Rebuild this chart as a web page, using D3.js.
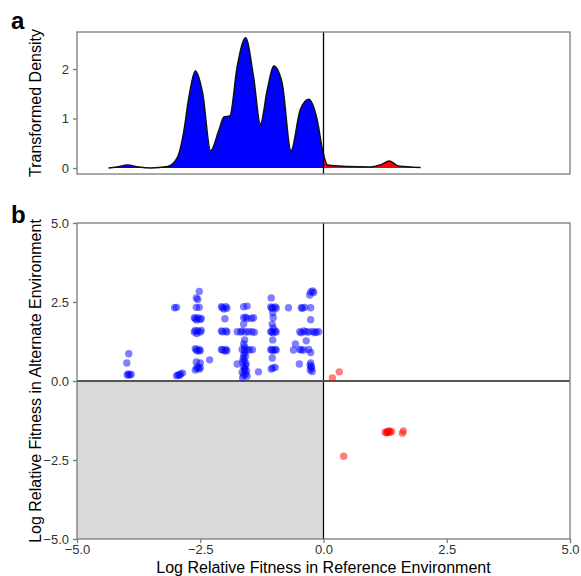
<!DOCTYPE html>
<html>
<head>
<meta charset="utf-8">
<script src="https://cdn.jsdelivr.net/npm/d3@7"></script>
<style>
  body { margin: 0; background: #fff; }
  svg { font-family: "Liberation Sans", Arial, sans-serif; }
</style>
</head>
<body>
<div class="graph"></div>
<script>
// density curve: [log fitness, transformed density]
var densityCurve = [
    [-4.36, 0], [-4.2, 0.02], [-3.97, 0.06], [-3.75, 0.02], [-3.5, 0.0], [-3.16, 0.03],
    [-2.96, 0.22], [-2.84, 0.7], [-2.73, 1.43], [-2.6, 1.96], [-2.45, 1.5], [-2.29, 0.35],
    [-2.12, 0.77], [-2.02, 1.03], [-1.9, 1.05], [-1.75, 2.05], [-1.58, 2.63], [-1.42, 1.85],
    [-1.28, 0.89], [-1.14, 1.58], [-1.01, 2.06], [-0.84, 1.72], [-0.66, 0.35], [-0.47, 1.18],
    [-0.3, 1.39], [-0.13, 0.98], [-0.02, 0.37], [0.08, 0.06], [0.49, 0.03], [0.95, 0.02],
    [1.15, 0.06], [1.34, 0.14], [1.52, 0.04], [1.97, 0.01]
]
var densityTicks = [0, 1, 2]

// panel b points: [reference env, alternate env]
var bluePoints = [
    [-3.95, 0.86], [-3.99, 0.57], [-3.93, 0.19], [-3.90, 0.21], [-3.96, 0.22], [-3.98, 0.19],
    [-3.02, 2.32], [-2.98, 2.33], [-2.95, 0.19], [-2.90, 0.22], [-2.98, 0.17], [-2.86, 0.25], [-2.92, 0.18],
    [-2.52, 2.83], [-2.58, 2.63], [-2.55, 2.58], [-2.58, 2.33], [-2.52, 2.33],
    [-2.6, 1.97], [-2.55, 2.0], [-2.5, 1.95], [-2.57, 1.93], [-2.62, 2.0], [-2.48, 1.98],
    [-2.62, 1.55], [-2.55, 1.58], [-2.5, 1.55], [-2.57, 1.5], [-2.6, 1.6], [-2.48, 1.6],
    [-2.58, 0.98], [-2.52, 1.0], [-2.55, 0.95], [-2.6, 1.02], [-2.5, 0.96], [-2.58, 0.6], [-2.5, 0.57],
    [-2.57, 0.4], [-2.52, 0.38], [-2.55, 0.45], [-2.6, 0.35], [-2.5, 0.42], [-2.31, 0.67],
    [-2.05, 2.32], [-1.98, 2.35], [-2.02, 2.28], [-2.07, 2.35], [-1.96, 2.3], [-2.0, 1.97],
    [-2.05, 1.56], [-1.98, 1.58], [-2.07, 1.58], [-1.96, 1.55],
    [-2.05, 0.98], [-1.98, 1.0], [-2.0, 0.95], [-2.07, 1.0], [-1.96, 0.96],
    [-1.62, 2.35], [-1.55, 2.37], [-1.62, 2.0], [-1.58, 2.02], [-1.55, 1.98], [-1.42, 2.0], [-1.46, 1.98],
    [-1.62, 1.8], [-1.75, 1.56], [-1.65, 1.58], [-1.58, 1.55], [-1.45, 1.56], [-1.4, 1.54],
    [-1.68, 1.55], [-1.52, 1.56],
    [-1.6, 1.3], [-1.62, 1.17], [-1.6, 1.08], [-1.6, 0.98], [-1.65, 1.0], [-1.55, 1.0], [-1.5, 0.98], [-1.44, 0.99],
    [-1.6, 0.88], [-1.62, 0.8], [-1.58, 0.78], [-1.63, 0.7], [-1.6, 0.63], [-1.64, 0.6], [-1.57, 0.55],
    [-1.58, 0.48], [-1.62, 0.45], [-1.6, 0.4], [-1.6, 0.35], [-1.56, 0.32], [-1.65, 0.28],
    [-1.62, 0.19], [-1.58, 0.22], [-1.55, 0.15], [-1.75, 0.54], [-1.64, 0.1], [-1.32, 0.29],
    [-1.06, 2.63], [-1.03, 2.32], [-0.98, 2.34], [-1.05, 2.3], [-1.07, 2.34], [-0.96, 2.3],
    [-1.03, 2.16], [-1.02, 2.0], [-1.04, 1.8], [-1.02, 1.68],
    [-1.05, 1.56], [-0.98, 1.58], [-1.02, 1.53], [-1.07, 1.56], [-0.96, 1.55], [-1.03, 1.3],
    [-1.05, 0.98], [-0.98, 1.0], [-1.02, 0.96], [-1.07, 1.0], [-0.96, 0.98], [-1.04, 0.73],
    [-1.03, 0.41], [-0.98, 0.43], [-1.06, 0.38], [-0.71, 2.32],
    [-0.26, 2.82], [-0.22, 2.85], [-0.2, 2.8], [-0.28, 2.72], [-0.45, 2.32], [-0.43, 2.3], [-0.38, 2.33], [-0.26, 2.32],
    [-0.26, 1.94], [-0.48, 1.56], [-0.45, 1.53], [-0.4, 1.58], [-0.35, 1.56], [-0.3, 1.55],
    [-0.22, 1.57], [-0.18, 1.53], [-0.15, 1.55], [-0.1, 1.56],
    [-0.35, 1.27], [-0.57, 1.17], [-0.48, 1.0], [-0.45, 0.98], [-0.4, 0.98], [-0.3, 1.0], [-0.61, 0.98],
    [-0.26, 0.9], [-0.49, 0.54], [-0.26, 0.57], [-0.27, 0.5], [-0.24, 0.41], [-0.27, 0.35],
    [-0.25, 0.45], [-0.23, 0.3]
]
var redPoints = [
    [0.18, 0.1], [0.32, 0.29], [1.25, -1.62], [1.3, -1.6], [1.35, -1.62], [1.38, -1.6],
    [1.28, -1.64], [1.3, -1.63], [1.33, -1.58], [1.62, -1.58], [1.6, -1.65], [0.41, -2.38]
]
var fitnessTicks = [-5, -2.5, 0, 2.5, 5]

var svg = d3.select('.graph')
    .append('svg')
    .attr('width', 581)
    .attr('height', 576)

var left = 77, right = 570
var x = d3.scaleLinear().domain([-5, 5]).range([left, right])
var yDens = d3.scaleLinear().domain([-0.121, 2.747]).range([174, 32])
var y = d3.scaleLinear().domain([-5, 5]).range([539, 223])

var frame = '#7a7a7a'
var tickText = '#333'
var dotR = 3.7

// ---- panel a ----
var panelA = svg.append('g')
var defs = svg.append('defs')
defs.append('clipPath').attr('id', 'negClip')
    .append('rect').attr('x', 0).attr('y', 0).attr('width', x(0)).attr('height', 200)
defs.append('clipPath').attr('id', 'posClip')
    .append('rect').attr('x', x(0)).attr('y', 0).attr('width', 581 - x(0)).attr('height', 200)

var area = d3.area()
    .x(function(d) { return x(d[0]) })
    .y0(yDens(0))
    .y1(function(d) { return yDens(d[1]) })
    .curve(d3.curveMonotoneX)
var line = d3.line()
    .x(function(d) { return x(d[0]) })
    .y(function(d) { return yDens(d[1]) })
    .curve(d3.curveMonotoneX)

panelA.append('path').datum(densityCurve)
    .attr('d', area).attr('fill', '#0000ff').attr('clip-path', 'url(#negClip)')
panelA.append('path').datum(densityCurve)
    .attr('d', area).attr('fill', '#ff0000').attr('clip-path', 'url(#posClip)')
panelA.append('path').datum(densityCurve)
    .attr('d', line).attr('fill', 'none').attr('stroke', '#111').attr('stroke-width', 1.5)

panelA.append('line')
    .attr('x1', x(0)).attr('x2', x(0)).attr('y1', yDens.range()[1]).attr('y2', yDens.range()[0])
    .attr('stroke', '#000').attr('stroke-width', 1.3)

panelA.append('rect')
    .attr('x', left).attr('y', 32).attr('width', right - left).attr('height', 174 - 32)
    .attr('fill', 'none').attr('stroke', frame).attr('stroke-width', 1.3)

var yAxisA = panelA.append('g')
    .attr('transform', 'translate(' + left + ',0)')
    .call(d3.axisLeft(yDens).tickValues(densityTicks).tickFormat(d3.format('d')).tickSize(4).tickPadding(4))
yAxisA.select('.domain').remove()

panelA.append('text')
    .attr('transform', 'translate(41,' + (32 + 174) / 2 + ') rotate(-90)')
    .attr('text-anchor', 'middle')
    .attr('font-size', 16)
    .text('Transformed Density')

svg.append('text').attr('x', 11).attr('y', 29)
    .attr('font-size', 24).attr('font-weight', 'bold').text('a')

// ---- panel b ----
var panelB = svg.append('g')

panelB.append('rect')
    .attr('x', x(-5)).attr('y', y(0)).attr('width', x(0) - x(-5)).attr('height', y(-5) - y(0))
    .attr('fill', '#d9d9d9')

panelB.append('line')
    .attr('x1', x(0)).attr('x2', x(0)).attr('y1', y(5)).attr('y2', y(-5))
    .attr('stroke', '#000').attr('stroke-width', 1.2)
panelB.append('line')
    .attr('x1', x(-5)).attr('x2', x(5)).attr('y1', y(0)).attr('y2', y(0))
    .attr('stroke', '#555').attr('stroke-width', 2)

panelB.append('g').selectAll('circle')
    .data(bluePoints)
    .enter().append('circle')
    .attr('cx', function(d) { return x(d[0]) })
    .attr('cy', function(d) { return y(d[1]) })
    .attr('r', dotR)
    .attr('fill', '#0000ff')
    .attr('fill-opacity', 0.5)

panelB.append('g').selectAll('circle')
    .data(redPoints)
    .enter().append('circle')
    .attr('cx', function(d) { return x(d[0]) })
    .attr('cy', function(d) { return y(d[1]) })
    .attr('r', dotR)
    .attr('fill', '#ff0000')
    .attr('fill-opacity', 0.5)

panelB.append('rect')
    .attr('x', left).attr('y', y(5)).attr('width', right - left).attr('height', y(-5) - y(5))
    .attr('fill', 'none').attr('stroke', frame).attr('stroke-width', 1.3)

var fmt = d3.format('.1f')
var xAxisB = panelB.append('g')
    .attr('transform', 'translate(0,' + y(-5) + ')')
    .call(d3.axisBottom(x).tickValues(fitnessTicks).tickFormat(fmt).tickSize(4).tickPadding(2))
var yAxisB = panelB.append('g')
    .attr('transform', 'translate(' + left + ',0)')
    .call(d3.axisLeft(y).tickValues(fitnessTicks).tickFormat(fmt).tickSize(4).tickPadding(4))
xAxisB.select('.domain').remove()
yAxisB.select('.domain').remove()

svg.selectAll('.tick text')
    .attr('font-size', 13)
    .attr('font-family', '"Liberation Sans", Arial, sans-serif')
    .attr('fill', tickText)
svg.selectAll('.tick line').attr('stroke', frame).attr('stroke-width', 1.3)

panelB.append('text')
    .attr('transform', 'translate(41,' + (y(5) + y(-5)) / 2 + ') rotate(-90)')
    .attr('text-anchor', 'middle')
    .attr('font-size', 16)
    .text('Log Relative Fitness in Alternate Environment')

panelB.append('text')
    .attr('x', (left + right) / 2).attr('y', 573)
    .attr('text-anchor', 'middle')
    .attr('font-size', 16)
    .text('Log Relative Fitness in Reference Environment')

svg.append('text').attr('x', 11).attr('y', 223)
    .attr('font-size', 24).attr('font-weight', 'bold').text('b')
</script>
</body>
</html>
